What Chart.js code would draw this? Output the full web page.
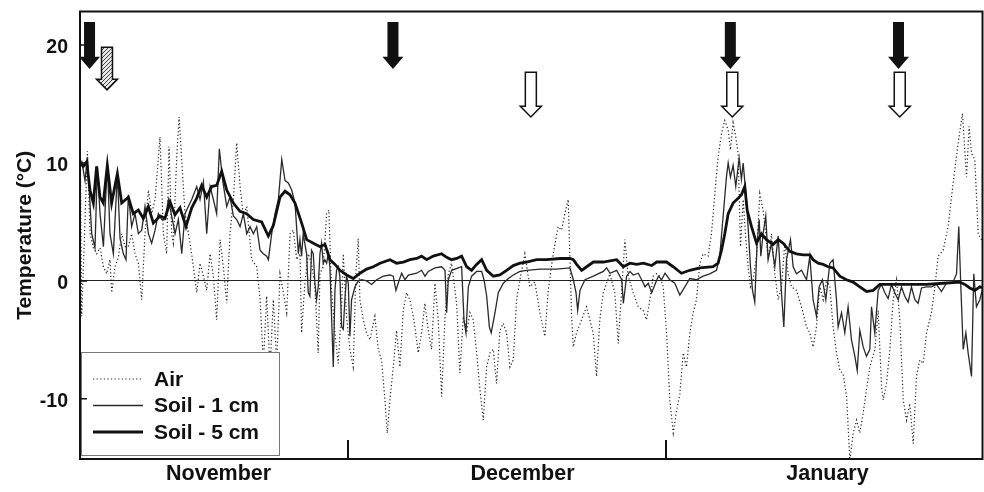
<!DOCTYPE html>
<html lang="en">
<head>
<meta charset="UTF-8">
<title>Air and soil temperature</title>
<script src="https://cdn.jsdelivr.net/npm/chart.js"></script>
<style>
  body { margin: 0; background: #fff; }
</style>
</head>
<body>
<canvas id="myChart" width="984" height="492"></canvas>

<script>
// x values are days counted from 1 November
const monthNames = ['November', 'December', 'January'];
const monthLabelDays = [17.4, 47.0, 76.7];
const monthStartDays = [30, 61];
const yTickValues = [20, 10, 0, -10];

// [day, temperature °C]
const airReadings = [
    [3.95, 9], [4.06, -3], [4.62, 11], [4.88, 4], [5.20, 2.8], [5.53, 2.3], [5.85, 2.8], [6.18, 1.2],
    [6.50, 0.6], [6.82, 1.8], [6.99, -1], [7.31, 1.2], [7.64, 2], [7.96, 4], [8.29, 2.9], [8.61, 2.9],
    [8.93, 4], [9.26, 2.3], [9.58, 1.5], [9.91, -1.6], [10.23, 4], [10.56, 7.7], [10.88, 5.7], [11.21, 6.9],
    [11.69, 12.2], [12.02, 4], [12.34, 2.3], [12.57, 11.4], [12.83, 4], [12.99, 3.2], [13.32, 10.5], [13.55, 13.9],
    [13.81, 10.2], [14.13, 5.7], [14.62, 3.2], [14.94, 1.2], [15.27, -1], [15.59, 1.5], [15.92, 0.4], [16.24, -0.8],
    [16.57, 2.3], [16.89, 0.4], [17.21, -3.3], [17.54, 3.5], [17.86, 1.2], [18.19, -1.9], [18.51, 4], [18.84, 6.9],
    [19.16, 11.7], [19.49, 8], [19.81, 5.5], [20.14, 6.3], [20.62, 1.8], [21.11, 1.2], [21.44, -1.6], [21.76, -7],
    [22.08, -1.3], [22.41, -7.5], [22.73, -1.6], [23.06, -7], [23.38, 0.6], [23.71, -1], [24.03, -2.7], [24.36, 4],
    [24.68, 4.3], [25.01, 1.8], [25.33, 2.3], [25.48, -4.4], [25.81, -0.1], [26.13, 2.3], [26.45, 1.5], [26.78, -0.5],
    [27.10, -6.1], [27.27, 0.6], [27.59, 1.2], [27.92, 5.7], [28.14, 6], [28.40, -0.8], [28.73, -4.4], [29.05, -7],
    [29.38, -2.2], [29.54, 2.3], [29.86, -3], [30.19, -5.8], [30.51, -7.3], [30.77, 0.6], [31.00, 3.6], [31.16, -1.6],
    [31.49, -3.3], [31.81, -4.4], [32.14, -5], [32.62, -3], [32.95, -5.8], [33.27, -6.7], [33.60, -10.1], [33.83, -12.9],
    [34.08, -10.1], [34.41, -7.3], [34.73, -4.2], [35.06, -7.3], [35.38, -2.5], [35.71, -1], [36.03, -1.6], [36.36, -3],
    [36.52, -3.9], [36.84, -6.1], [37.17, -4.4], [37.49, -1.9], [37.82, -4.2], [38.14, -5.8], [38.47, -0.2], [38.79, -3.3],
    [39.12, -9.8], [39.44, -3.3], [39.77, 0.6], [40.09, 1.5], [40.58, -1.9], [40.90, -7.8], [41.23, -3], [41.55, -4.4],
    [41.88, -2.7], [42.20, -3.3], [42.53, -6.1], [42.85, -9.2], [43.18, -11.8], [43.50, -7.3], [43.83, -6.1], [44.15, -5.8],
    [44.47, -8.7], [44.80, -4.2], [45.12, -3.6], [45.45, -4.4], [45.77, -7.3], [46.10, -6.7], [46.42, -1.6], [46.75, 0.1],
    [47.23, 2.3], [47.71, -0.5], [48.20, -0.1], [48.69, -2.7], [49.18, -4.7], [49.50, -0.8], [49.99, 2.3], [50.47, 4.6],
    [50.80, 4.3], [51.12, 5.7], [51.45, 6.9], [51.77, -2.7], [51.94, -5.6], [52.26, -4.4], [52.75, -3.3], [53.23, -2.2],
    [53.56, -3.3], [53.88, -4.4], [54.21, -8.1], [54.53, -3.3], [54.86, -1], [55.51, 0.6], [55.99, -1], [56.32, -5.3],
    [56.64, -1], [56.97, 3.5], [57.29, 0.4], [57.78, -1], [58.27, -2.2], [58.75, -2.5], [59.08, -3.3], [59.40, -1.6],
    [59.73, 0.4], [60.05, 0.6], [60.38, 0.4], [60.70, -0.5], [61.03, -4.4], [61.35, -10.1], [61.68, -12.9], [62.00, -11],
    [62.32, -9.6], [62.65, -6.1], [62.97, -7.3], [63.30, -4.4], [63.62, -2.7], [63.94, -1.6], [64.27, 1.5], [64.59, 2.3],
    [65.08, 2.1], [65.40, 4.0], [65.73, 7.4], [66.05, 10.5], [66.38, 12.5], [66.70, 13.6], [67.03, 12.8], [67.25, 11.1],
    [67.51, 13.4], [67.77, 12.2], [68.00, 10.8], [68.23, 2.9], [68.49, 6.9], [68.75, 3.5], [68.97, 1.2], [69.20, -0.5],
    [69.46, 0.1], [69.79, 2.1], [70.11, 7.4], [70.43, 6.0], [70.69, 4.0], [70.92, 1.8], [71.25, 4.0], [71.57, 0.6],
    [71.90, -1.6], [72.22, -0.5], [72.55, 3.2], [72.87, 0.6], [73.20, -0.5], [73.68, -0.8], [74.17, -2.2], [74.66, -3.9],
    [74.98, -4.4], [75.30, -5.6], [75.63, -3.9], [75.96, -0.5], [76.28, -1.6], [76.61, 0.1], [76.93, -0.5], [77.25, -3.9],
    [77.58, -6.1], [77.91, -7.6], [78.23, -7.9], [78.56, -9.8], [78.88, -15.2], [79.21, -12.9], [79.53, -11.8], [79.85, -12.9],
    [80.18, -11.2], [80.50, -9.2], [80.83, -7.3], [81.32, -5.8], [81.64, -2.5], [81.97, -9], [82.13, -10.1], [82.45, -8.7],
    [82.78, -5.8], [83.10, -1.6], [83.43, 0.1], [83.75, -3.3], [84.08, -10.1], [84.40, -11.8], [84.72, -10.4], [85.05, -13.8],
    [85.37, -8.1], [85.70, -6.7], [86.02, -7], [86.35, -4.4], [86.83, -2.7], [87.16, -0.5], [87.48, 2.1], [87.97, 2.6],
    [88.45, 4.6], [88.94, 8.3], [89.43, 11.7], [89.85, 14.2], [90.24, 8.8], [90.50, 13.1], [90.73, 10.8], [91.05, 10.3],
    [91.38, 4.0], [91.70, 3.5], [91.93, 3.0]
];

const soil1Readings = [
    [4.06, 10.2], [4.39, 8.5], [4.62, 10.5], [5.04, 4], [5.36, 2.8], [5.59, 9.7], [5.85, 5.7], [6.18, 2.9],
    [6.56, 10], [6.82, 4], [7.15, 2.3], [7.54, 9.1], [7.80, 3.6], [8.12, 2.3], [8.38, 1.8], [8.61, 7.3],
    [8.93, 4.6], [9.26, 5.7], [9.58, 4], [9.91, 4.3], [10.23, 6.3], [10.56, 4], [10.88, 3.2], [11.21, 4.3],
    [11.53, 5.7], [11.86, 5.2], [12.18, 5.2], [12.51, 6.9], [12.83, 5.5], [13.16, 4], [13.48, 5.2], [13.81, 2.3],
    [14.13, 5.7], [14.45, 6.3], [14.78, 6.9], [15.27, 8], [15.59, 6.9], [15.92, 8.4], [16.24, 4], [16.57, 8],
    [16.89, 6.9], [17.21, 5.7], [17.47, 11.2], [17.80, 8.5], [18.19, 6.3], [18.51, 7.1], [18.84, 5.5], [19.16, 5.2],
    [19.49, 4.6], [19.81, 5.7], [20.14, 4], [20.46, 4.6], [20.79, 4], [21.11, 4.6], [21.44, 2.6], [21.76, 2.3],
    [22.08, 2.1], [22.25, 1.8], [22.57, 4], [22.90, 5.7], [23.22, 6.9], [23.55, 10.3], [23.87, 8.5], [24.19, 8.3],
    [24.52, 7.7], [24.84, 6.6], [25.17, 2.3], [25.32, 3.5], [25.48, 2.1], [25.64, 4], [25.97, 2.3], [26.13, -1],
    [26.29, -1.3], [26.45, 2.6], [26.62, 2.3], [26.78, -0.2], [26.94, -1.6], [27.10, -0.5], [27.27, 2.3], [27.43, 3.2],
    [27.59, 1.5], [27.75, 1.8], [27.92, 1.5], [28.08, 2.3], [28.24, 1.2], [28.40, -3], [28.57, -7.3], [28.73, -0.8],
    [28.89, 0.9], [29.05, 1.2], [29.21, 0.4], [29.38, -3.9], [29.54, -4.1], [29.70, -1.6], [29.86, 0.4], [30.03, -0.2],
    [30.19, -4.7], [30.35, -1.6], [30.68, -0.5], [31.01, 0], [31.33, 0.1], [31.82, 0], [32.30, -0.3], [32.79, 0.1],
    [33.44, 0.4], [34.09, 0.5], [34.41, 0.4], [34.67, -0.8], [35.00, 0.1], [35.23, 0.65], [35.55, 0.1], [35.88, 0.5],
    [36.69, 0.65], [37.17, 0.9], [37.50, 0.4], [37.82, 0.8], [38.47, 1.1], [39.12, 1.2], [39.45, 0.9], [39.61, -2.7],
    [39.77, 0.1], [40.10, 0.9], [40.75, 1.1], [41.07, 1.2], [41.30, -3.3], [41.49, -4.4], [41.72, -0.5], [42.04, 0.4],
    [42.53, 0.8], [43.02, 0.8], [43.25, 0.1], [43.51, -1.3], [43.77, -3.9], [43.95, -4.4], [44.32, -2.7], [44.64, -1.0],
    [45.13, -0.2], [45.62, 0.2], [46.10, 0.5], [46.75, 0.8], [47.40, 0.9], [48.70, 1.0], [50.32, 1.0], [51.62, 1.1],
    [51.95, 0.1], [52.21, -1.0], [52.37, -2.5], [52.60, -0.8], [53.08, 0.1], [53.90, 0.4], [54.87, 0.8], [55.19, 1.1],
    [55.52, 0.65], [56.17, 0.9], [56.66, 0.1], [56.82, -1.9], [57.14, 0.4], [57.47, 0.8], [57.79, 0.5], [58.28, 0.65],
    [58.60, 0.1], [58.93, -0.5], [59.25, -0.2], [59.58, -1.0], [59.90, -0.3], [60.23, 0.4], [60.55, 0.1], [60.88, 0.65],
    [61.34, 0.1], [61.83, -0.2], [62.32, -1.2], [62.81, -0.5], [63.29, 0.2], [63.94, 0.1], [64.59, 0.4], [65.24, 0.6],
    [65.89, 0.9], [66.21, 2.1], [66.54, 5.5], [66.86, 8.8], [67.03, 10.0], [67.25, 8.8], [67.51, 9.8], [67.77, 8.0],
    [68.10, 10.4], [68.32, 8.6], [68.49, 10.0], [68.75, 7.4], [68.97, 4.6], [69.20, 1.2], [69.40, -0.8], [69.62, -1.8],
    [69.85, 3.2], [70.05, 5.2], [70.21, 2.1], [70.43, 4.0], [70.69, 5.5], [70.92, 1.8], [71.25, 3.2], [71.57, 1.2],
    [71.90, 3.8], [72.22, -1.0], [72.45, -3.9], [72.71, 1.8], [73.10, 3.5], [73.36, 1.2], [73.68, 0.6], [74.17, 0.9],
    [74.66, 0.1], [74.98, 2.1], [75.30, -1.6], [75.63, -3.0], [75.89, -0.5], [76.21, 0.1], [76.54, -1.6], [76.93, 1.5],
    [77.25, 1.8], [77.58, -1.6], [77.74, -3.9], [78.07, -2.7], [78.39, -4.4], [78.71, -2.2], [79.04, -5.0], [79.37, -6.4],
    [79.60, -7.6], [79.85, -4.2], [80.18, -5.6], [80.50, -6.4], [80.83, -5.8], [80.99, -2.2], [81.31, -4.4], [81.64, -0.8],
    [81.96, -0.3], [82.29, -1.0], [82.61, -1.5], [82.94, -0.3], [83.26, -1.0], [83.59, -1.6], [83.91, -0.5], [84.23, -1.3],
    [84.56, -1.8], [84.88, -0.5], [85.21, -1.6], [85.53, -1.9], [85.86, -0.6], [86.34, -0.5], [86.83, -0.5], [87.32, -0.3],
    [87.80, -0.9], [88.29, -0.2], [88.94, -0.1], [89.27, 0.6], [89.49, 4.6], [89.69, -0.5], [89.92, -5.8], [90.18, -4.4],
    [90.40, -6.1], [90.73, -8.1], [90.95, 0.6], [91.21, -2.2], [91.54, -1.6], [91.86, -0.5]
];

const soil5Readings = [
    [3.90, 10.0], [4.22, 9.7], [4.55, 10.1], [4.87, 7.7], [5.20, 6.6], [5.52, 9.7], [5.85, 7.1], [6.17, 6.6],
    [6.56, 9.8], [6.98, 6.6], [7.54, 9.1], [7.96, 6.6], [8.61, 7.1], [9.09, 5.7], [9.58, 6.0], [10.07, 5.3],
    [10.56, 6.3], [11.04, 4.9], [11.69, 5.5], [12.18, 5.3], [12.67, 6.7], [13.15, 5.6], [13.64, 6.2], [14.22, 4.6],
    [14.78, 6.2], [15.26, 7.0], [15.75, 8.1], [16.24, 7.1], [16.72, 8.0], [17.21, 8.1], [17.70, 9.3], [18.19, 7.7],
    [18.84, 6.6], [19.48, 5.9], [20.13, 5.7], [20.78, 5.2], [21.59, 5.0], [22.24, 3.8], [22.73, 4.7], [23.38, 7.1],
    [23.87, 7.6], [24.35, 7.3], [24.84, 6.6], [25.49, 4.9], [25.98, 3.5], [26.63, 3.2], [27.28, 2.9], [27.76, 3.1],
    [28.25, 1.8], [28.74, 1.4], [29.22, 0.9], [29.87, 0.5], [30.52, 0.2], [31.17, 0.65], [31.82, 1.0], [32.47, 1.2],
    [33.12, 1.5], [34.09, 1.8], [34.74, 1.5], [35.39, 1.6], [36.04, 1.8], [36.69, 1.9], [37.17, 2.1], [37.66, 1.8],
    [38.31, 2.1], [39.12, 2.3], [39.61, 2.0], [40.10, 1.8], [40.58, 1.9], [41.07, 2.1], [41.56, 1.2], [42.04, 0.9],
    [42.53, 1.4], [43.02, 1.8], [43.51, 0.9], [44.16, 0.4], [44.80, 0.5], [45.45, 0.9], [46.10, 1.3], [46.75, 1.5],
    [47.40, 1.6], [48.38, 1.8], [49.35, 1.8], [50.65, 1.9], [51.62, 1.9], [51.95, 1.8], [52.27, 1.4], [52.76, 0.9],
    [53.25, 1.2], [53.90, 1.6], [54.87, 1.6], [55.52, 1.7], [56.17, 1.8], [56.82, 1.2], [57.47, 1.5], [58.12, 1.4],
    [58.77, 1.5], [59.58, 1.3], [60.06, 1.6], [60.71, 1.6], [61.02, 1.6], [61.67, 1.2], [62.48, 0.65], [63.29, 0.9],
    [64.27, 1.1], [65.56, 1.2], [66.05, 1.5], [66.38, 2.6], [66.70, 4.0], [67.03, 5.7], [67.51, 6.6], [68.00, 7.0],
    [68.32, 7.3], [68.65, 8.0], [68.88, 6.0], [69.30, 4.6], [69.79, 3.2], [70.27, 4.0], [70.76, 3.5], [71.41, 3.1],
    [71.90, 3.5], [72.38, 3.2], [73.03, 2.5], [73.68, 2.3], [74.33, 2.2], [74.98, 2.2], [75.30, 1.8], [75.79, 1.5],
    [76.28, 1.4], [76.77, 1.2], [77.25, 1.1], [77.90, 0.4], [78.55, 0.1], [79.20, -0.1], [79.85, -0.5], [80.50, -0.9],
    [81.15, -0.8], [81.80, -0.3], [83.10, -0.3], [84.72, -0.3], [86.34, -0.3], [87.97, -0.2], [89.59, -0.1], [90.08, -0.3],
    [90.56, -0.6], [91.05, -0.8], [91.54, -0.5], [91.93, -0.6]
];

// arrows along the top: day where each one points
const solidArrowDays = [4.83, 34.38, 67.24, 83.62];
const hatchedArrowDays = [6.53];
const openArrowDays = [47.81, 67.43, 83.74];

const FONT = "'Liberation Sans', Arial, sans-serif";
const INK = '#111';

function toPoints(rows) {
    return rows.map(r => ({x: r[0], y: r[1]}));
}

// small diagonal hatch used by the grey arrow
function hatchPattern(ctx) {
    const c = document.createElement('canvas');
    c.width = 4; c.height = 4;
    const p = c.getContext('2d');
    p.fillStyle = '#e6e6e6';
    p.fillRect(0, 0, 4, 4);
    p.strokeStyle = '#444';
    p.lineWidth = 1;
    p.beginPath();
    p.moveTo(0, 4); p.lineTo(4, 0);
    p.moveTo(-1, 1); p.lineTo(1, -1);
    p.moveTo(3, 5); p.lineTo(5, 3);
    p.stroke();
    return ctx.createPattern(c, 'repeat');
}

function drawArrow(ctx, cx, top, base, tip, fill, stroke) {
    const sw = 5.5, hw = 10.5;
    ctx.beginPath();
    ctx.moveTo(cx - sw, top);
    ctx.lineTo(cx + sw, top);
    ctx.lineTo(cx + sw, base);
    ctx.lineTo(cx + hw, base);
    ctx.lineTo(cx, tip);
    ctx.lineTo(cx - hw, base);
    ctx.lineTo(cx - sw, base);
    ctx.closePath();
    ctx.fillStyle = fill;
    ctx.fill();
    if (stroke) {
        ctx.lineWidth = 1.5;
        ctx.strokeStyle = stroke;
        ctx.stroke();
    }
}

const overlayPlugin = {
    id: 'overlay',
    afterDatasetsDraw(chart) {
        const ctx = chart.ctx;
        const ca = chart.chartArea;
        const xs = chart.scales.x;
        const ys = chart.scales.y;
        ctx.save();

        // legend box over the lower left corner
        const bx = ca.left + 1, by = ca.bottom - 107, bw = 199, bh = 104;
        ctx.fillStyle = '#fff';
        ctx.fillRect(bx, by, bw, bh);
        ctx.strokeStyle = '#777';
        ctx.lineWidth = 1;
        ctx.strokeRect(bx + 0.5, by + 0.5, bw - 1, bh - 1);
        chart.data.datasets.forEach((ds, i) => {
            const ly = by + 27 + i * 26.5;
            ctx.beginPath();
            ctx.setLineDash(ds.borderDash || []);
            ctx.lineWidth = ds.borderWidth;
            ctx.strokeStyle = ds.borderColor;
            ctx.moveTo(bx + 12, ly);
            ctx.lineTo(bx + 62, ly);
            ctx.stroke();
            ctx.setLineDash([]);
            ctx.fillStyle = INK;
            ctx.font = 'bold 21px ' + FONT;
            ctx.textBaseline = 'middle';
            ctx.textAlign = 'left';
            ctx.fillText(ds.label, bx + 73, ly + 1);
        });

        // frame and inward tick marks
        ctx.strokeStyle = INK;
        ctx.lineWidth = 2;
        ctx.strokeRect(ca.left, ca.top, ca.right - ca.left, ca.bottom - ca.top);
        ctx.beginPath();
        monthStartDays.forEach(d => {
            const px = Math.round(xs.getPixelForValue(d));
            ctx.moveTo(px, ca.bottom);
            ctx.lineTo(px, ca.bottom - 19);
        });
        ctx.stroke();
        ctx.lineWidth = 1.5;
        ctx.beginPath();
        yTickValues.forEach(v => {
            const py = ys.getPixelForValue(v);
            ctx.moveTo(ca.left, py);
            ctx.lineTo(ca.left + 7, py);
        });
        ctx.stroke();

        // arrows
        solidArrowDays.forEach(d => {
            drawArrow(ctx, xs.getPixelForValue(d), ys.getPixelForValue(21.95),
                ys.getPixelForValue(19.0), ys.getPixelForValue(17.97), INK, null);
        });
        const hatch = hatchPattern(ctx);
        hatchedArrowDays.forEach(d => {
            drawArrow(ctx, xs.getPixelForValue(d), ys.getPixelForValue(19.8),
                ys.getPixelForValue(17.1), ys.getPixelForValue(16.2), hatch, INK);
        });
        openArrowDays.forEach(d => {
            drawArrow(ctx, xs.getPixelForValue(d), ys.getPixelForValue(17.7),
                ys.getPixelForValue(14.8), ys.getPixelForValue(13.9), '#fff', INK);
        });
        ctx.restore();
    }
};

const data = {
    datasets: [{
        label: 'Air',
        data: toPoints(airReadings),
        borderColor: '#222',
        borderWidth: 1.2,
        borderDash: [1.2, 2.4],
        order: 3
    }, {
        label: 'Soil - 1 cm',
        data: toPoints(soil1Readings),
        borderColor: '#2a2a2a',
        borderWidth: 1.3,
        order: 2
    }, {
        label: 'Soil - 5 cm',
        data: toPoints(soil5Readings),
        borderColor: '#111',
        borderWidth: 2.8,
        order: 1
    }]
};

// the axes must not ask for extra room around the plot
function noScalePadding(scale) {
    scale.paddingTop = 0;
    scale.paddingBottom = 0;
    scale.paddingLeft = 0;
    scale.paddingRight = 0;
}

const config = {
    type: 'line',
    data: data,
    options: {
        responsive: false,
        animation: false,
        layout: {padding: {top: 11.5, right: 1.5, left: 0, bottom: 0}},
        elements: {
            point: {radius: 0},
            line: {tension: 0}
        },
        plugins: {
            legend: {display: false},
            tooltip: {enabled: false}
        },
        scales: {
            x: {
                type: 'linear',
                min: 3.9,
                max: 91.8,
                afterBuildTicks: scale => {
                    scale.ticks = monthLabelDays.map(v => ({value: v}));
                },
                afterFit: scale => { scale.height = 33; noScalePadding(scale); },
                ticks: {
                    autoSkip: false,
                    maxRotation: 0,
                    padding: 2,
                    color: INK,
                    font: {family: FONT, size: 21.5, weight: 'bold'},
                    callback: (value, index) => monthNames[index]
                },
                grid: {display: false, drawTicks: false},
                border: {display: false}
            },
            y: {
                min: -15.1,
                max: 22.84,
                afterBuildTicks: scale => {
                    scale.ticks = yTickValues.map(v => ({value: v}));
                },
                afterFit: scale => { scale.width = 80; noScalePadding(scale); },
                ticks: {
                    padding: 12,
                    labelOffset: 2.5,
                    color: INK,
                    font: {family: FONT, size: 19.5, weight: 'bold'}
                },
                grid: {
                    drawTicks: false,
                    lineWidth: 1,
                    color: c => (c.tick && c.tick.value === 0) ? '#222' : 'rgba(0,0,0,0)'
                },
                border: {display: false},
                title: {
                    display: true,
                    text: 'Temperature (°C)',
                    color: INK,
                    font: {family: FONT, size: 21, weight: 'bold'},
                    padding: {top: 12.4, bottom: 0}
                }
            }
        }
    },
    plugins: [overlayPlugin]
};

const chart = new Chart(document.getElementById('myChart').getContext('2d'), config);
</script>
</body>
</html>
